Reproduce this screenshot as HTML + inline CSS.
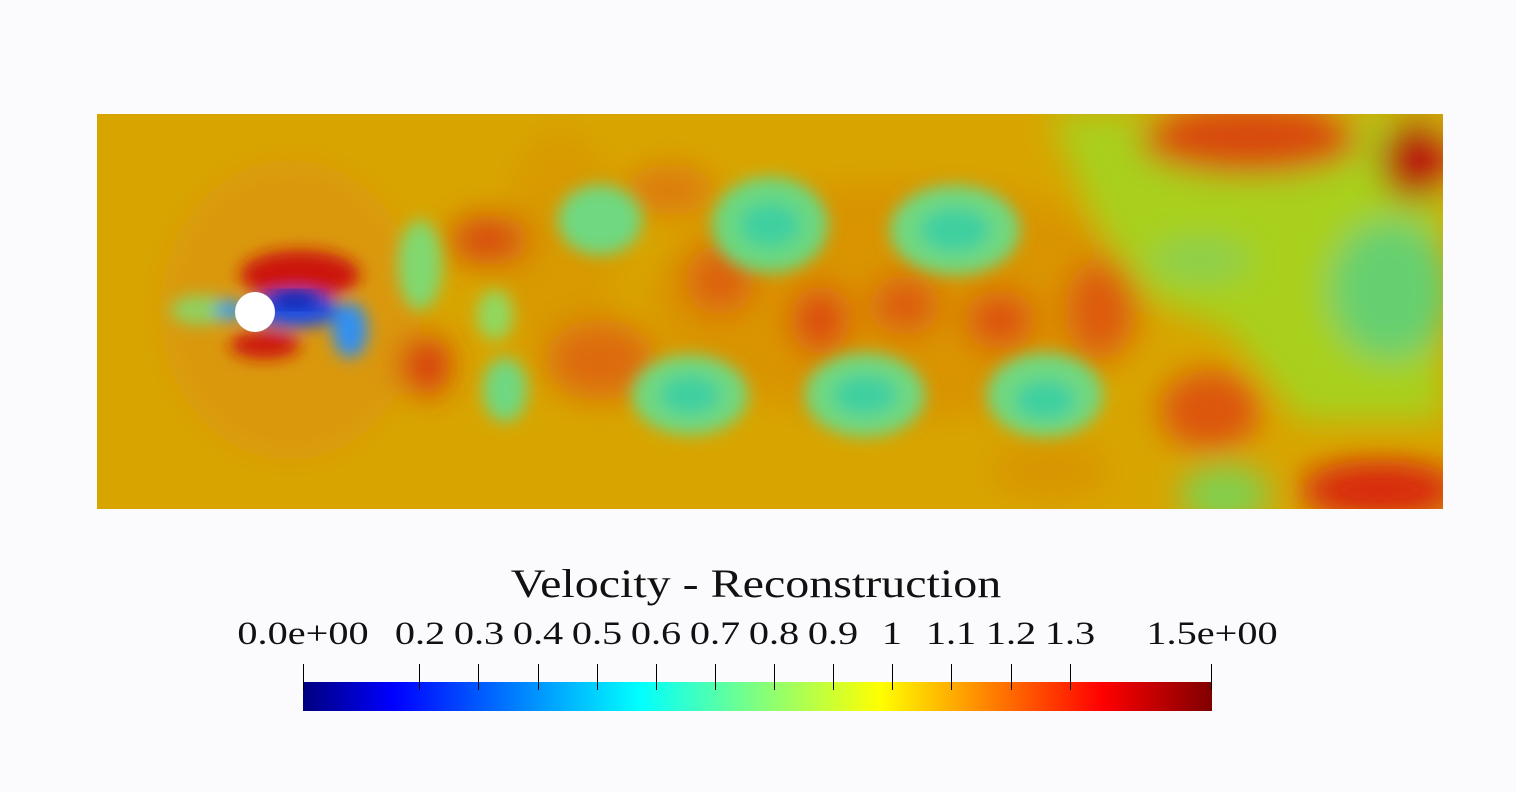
<!DOCTYPE html>
<html><head><style>
html,body{margin:0;padding:0;background:#fbfbfd;}
body{width:1516px;height:792px;position:relative;overflow:hidden;font-family:"Liberation Serif",serif;}
.lbl{position:absolute;top:616px;font-size:33px;color:#111;white-space:nowrap;transform:translateX(-50%) scaleX(1.22);}
</style></head><body>
<svg width="1516" height="792" style="position:absolute;left:0;top:0">
<defs>
<filter id="b" x="-20%" y="-20%" width="140%" height="140%"><feGaussianBlur stdDeviation="16"/></filter>
<filter id="b2" x="-20%" y="-20%" width="140%" height="140%"><feGaussianBlur stdDeviation="8"/></filter>
<clipPath id="c"><rect x="97" y="114" width="1346" height="395"/></clipPath>
<linearGradient id="jet" x1="0" x2="1" y1="0" y2="0">
<stop offset="0" stop-color="#00007f"/>
<stop offset="0.1" stop-color="#0000ff"/>
<stop offset="0.37" stop-color="#00ffff"/>
<stop offset="0.5" stop-color="#7fff7f"/>
<stop offset="0.635" stop-color="#ffff00"/>
<stop offset="0.88" stop-color="#ff0000"/>
<stop offset="1" stop-color="#7f0000"/>
</linearGradient>
</defs>
<g clip-path="url(#c)">
<rect x="97" y="114" width="1346" height="395" fill="#d8a500"/>
<g filter="url(#b)">
<ellipse cx="290" cy="310" rx="130" ry="150" fill="#da9808"/>
<ellipse cx="560" cy="250" rx="60" ry="120" fill="#d89a00"/>
<ellipse cx="900" cy="300" rx="250" ry="120" fill="#d99400"/>
<path d="M1050 114 L1443 114 L1443 420 L1300 420 L1230 330 L1150 300 L1100 230 Z" fill="#a8d01a"/>
<ellipse cx="1250" cy="140" rx="110" ry="35" fill="#d84a10"/>
<ellipse cx="1415" cy="160" rx="35" ry="40" fill="#b81808"/>
<ellipse cx="1390" cy="290" rx="60" ry="70" fill="#66d070"/>
<ellipse cx="1200" cy="260" rx="50" ry="20" fill="#88d050"/>
<ellipse cx="1210" cy="410" rx="50" ry="40" fill="#dd5510"/>
<ellipse cx="1380" cy="490" rx="80" ry="30" fill="#d82808"/>
<ellipse cx="1225" cy="495" rx="45" ry="30" fill="#80d050"/>
<ellipse cx="1100" cy="310" rx="35" ry="50" fill="#dd5a10"/>
<ellipse cx="1000" cy="320" rx="35" ry="30" fill="#dd5010"/>
<ellipse cx="905" cy="305" rx="35" ry="30" fill="#dd5a10"/>
<ellipse cx="820" cy="320" rx="30" ry="35" fill="#dd4a10"/>
<ellipse cx="720" cy="280" rx="35" ry="35" fill="#dd6010"/>
<ellipse cx="600" cy="360" rx="55" ry="40" fill="#dd6a10"/>
<ellipse cx="670" cy="190" rx="45" ry="25" fill="#dd7a10"/>
<ellipse cx="490" cy="240" rx="40" ry="25" fill="#d84a10"/>
<ellipse cx="425" cy="365" rx="25" ry="30" fill="#d83010"/>
<ellipse cx="1050" cy="470" rx="60" ry="30" fill="#d89500"/>
</g>
<g filter="url(#b2)">
<ellipse cx="600" cy="220" rx="42" ry="35" fill="#70d880"/>
<ellipse cx="770" cy="225" rx="58" ry="48" fill="#6ad880"/>
<ellipse cx="770" cy="225" rx="30" ry="22" fill="#40d0a0"/>
<ellipse cx="955" cy="230" rx="65" ry="45" fill="#70d880"/>
<ellipse cx="955" cy="230" rx="35" ry="22" fill="#40d0a0"/>
<ellipse cx="690" cy="395" rx="58" ry="40" fill="#70d880"/>
<ellipse cx="690" cy="395" rx="30" ry="20" fill="#40d0a0"/>
<ellipse cx="865" cy="395" rx="60" ry="42" fill="#70d880"/>
<ellipse cx="865" cy="395" rx="32" ry="20" fill="#40d0a0"/>
<ellipse cx="1045" cy="395" rx="58" ry="42" fill="#70d880"/>
<ellipse cx="1045" cy="400" rx="30" ry="20" fill="#40d0a0"/>
<ellipse cx="505" cy="390" rx="22" ry="32" fill="#70d880"/>
<ellipse cx="495" cy="315" rx="18" ry="25" fill="#90d860"/>
<ellipse cx="420" cy="265" rx="22" ry="45" fill="#80d870"/>
<ellipse cx="200" cy="310" rx="30" ry="15" fill="#90d060"/>
<ellipse cx="300" cy="275" rx="60" ry="25" fill="#cc1808"/>
<ellipse cx="265" cy="345" rx="35" ry="14" fill="#cc1808"/>
<ellipse cx="295" cy="310" rx="45" ry="18" fill="#2050e0"/>
<ellipse cx="350" cy="330" rx="18" ry="28" fill="#3090f0"/>
<ellipse cx="230" cy="310" rx="15" ry="10" fill="#30a0f0"/>
</g>
<ellipse cx="295" cy="300" rx="25" ry="8" fill="#0020b0" filter="url(#b2)"/>
<circle cx="255" cy="312" r="20" fill="#fff"/>
</g>
<rect x="303" y="682" width="909" height="29" fill="url(#jet)"/>
<g stroke="#000" stroke-width="1">
<line x1="303.5" y1="664" x2="303.5" y2="690"/>
<line x1="419.5" y1="664" x2="419.5" y2="690"/>
<line x1="478.5" y1="664" x2="478.5" y2="690"/>
<line x1="538.5" y1="664" x2="538.5" y2="690"/>
<line x1="597.5" y1="664" x2="597.5" y2="690"/>
<line x1="656.5" y1="664" x2="656.5" y2="690"/>
<line x1="715.5" y1="664" x2="715.5" y2="690"/>
<line x1="774.5" y1="664" x2="774.5" y2="690"/>
<line x1="833.5" y1="664" x2="833.5" y2="690"/>
<line x1="892.5" y1="664" x2="892.5" y2="690"/>
<line x1="951.5" y1="664" x2="951.5" y2="690"/>
<line x1="1011.5" y1="664" x2="1011.5" y2="690"/>
<line x1="1070.5" y1="664" x2="1070.5" y2="690"/>
<line x1="1211.5" y1="664" x2="1211.5" y2="690"/>
</g>
</svg>
<div style="position:absolute;left:756px;top:560px;transform:translateX(-50%) scaleX(1.2);font-size:40px;color:#111;white-space:nowrap">Velocity - Reconstruction</div>
<div class="lbl" style="left:303px">0.0e+00</div>
<div class="lbl" style="left:420px">0.2</div>
<div class="lbl" style="left:479px">0.3</div>
<div class="lbl" style="left:538px">0.4</div>
<div class="lbl" style="left:597px">0.5</div>
<div class="lbl" style="left:656px">0.6</div>
<div class="lbl" style="left:715px">0.7</div>
<div class="lbl" style="left:774px">0.8</div>
<div class="lbl" style="left:833px">0.9</div>
<div class="lbl" style="left:892px">1</div>
<div class="lbl" style="left:951px">1.1</div>
<div class="lbl" style="left:1011px">1.2</div>
<div class="lbl" style="left:1070px">1.3</div>
<div class="lbl" style="left:1212px">1.5e+00</div>
</body></html>
